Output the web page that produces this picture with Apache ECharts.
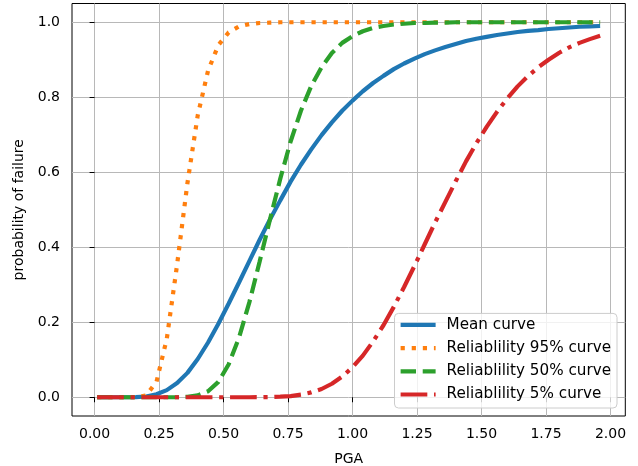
<!DOCTYPE html>
<html>
<head>
<meta charset="utf-8">
<script src="https://cdn.jsdelivr.net/npm/echarts@6/dist/echarts.min.js"></script>
<style>
  html, body { margin: 0; padding: 0; background: #fff; }
  #main { width: 638px; height: 466px; }
</style>
</head>
<body>
<div id="main"></div>
<script>
// PGA values (x)
const pga = [0.01, 0.04, 0.08, 0.12, 0.16, 0.20, 0.24, 0.28, 0.32, 0.36,
  0.40, 0.44, 0.48, 0.52, 0.56, 0.60, 0.64, 0.68, 0.72, 0.76,
  0.80, 0.84, 0.88, 0.92, 0.96, 1.00, 1.04, 1.08, 1.12, 1.16,
  1.20, 1.24, 1.28, 1.32, 1.36, 1.40, 1.44, 1.48, 1.52, 1.56,
  1.60, 1.64, 1.68, 1.72, 1.76, 1.80, 1.84, 1.88, 1.92, 1.96]

const meanCurve = [0, 0, 0, 0, 0.0004, 0.002, 0.008, 0.019, 0.038, 0.065,
  0.102, 0.146, 0.196, 0.250, 0.306, 0.363, 0.420, 0.474, 0.525, 0.575,
  0.620, 0.661, 0.699, 0.733, 0.764, 0.791, 0.816, 0.838, 0.857, 0.875,
  0.890, 0.903, 0.915, 0.925, 0.934, 0.942, 0.950, 0.956, 0.961, 0.966,
  0.970, 0.974, 0.977, 0.979, 0.982, 0.984, 0.986, 0.988, 0.989, 0.990]

const rel95 = [0, 0, 0, 0, 0, 0.005, 0.041, 0.156, 0.354, 0.571,
  0.752, 0.871, 0.939, 0.973, 0.989, 0.995, 0.998, 0.999, 1, 1,
  1, 1, 1, 1, 1, 1, 1, 1, 1, 1,
  1, 1, 1, 1, 1, 1, 1, 1, 1, 1,
  1, 1, 1, 1, 1, 1, 1, 1, 1, 1]

const rel50 = [0, 0, 0, 0, 0, 0, 0, 0, 0, 0.001,
  0.005, 0.016, 0.041, 0.088, 0.159, 0.253, 0.362, 0.474, 0.583, 0.682,
  0.764, 0.830, 0.880, 0.918, 0.945, 0.963, 0.976, 0.985, 0.990, 0.994,
  0.996, 0.998, 0.998, 0.999, 0.999, 1, 1, 1, 1, 1,
  1, 1, 1, 1, 1, 1, 1, 1, 1, 1]

const rel5 = [0, 0, 0, 0, 0, 0, 0, 0, 0, 0,
  0, 0, 0, 0, 0, 0, 0.0002, 0.0006, 0.0015, 0.003,
  0.007, 0.013, 0.022, 0.036, 0.055, 0.080, 0.111, 0.149, 0.192, 0.241,
  0.294, 0.350, 0.408, 0.466, 0.521, 0.576, 0.629, 0.677, 0.721, 0.761,
  0.797, 0.829, 0.856, 0.880, 0.900, 0.918, 0.933, 0.945, 0.955, 0.964]

const xTicks = [0, 0.25, 0.5, 0.75, 1.0, 1.25, 1.5, 1.75, 2.0]
const yTicks = [0, 0.2, 0.4, 0.6, 0.8, 1.0]

const names = ['Mean curve', 'Reliablility 95% curve', 'Reliablility 50% curve', 'Reliablility 5% curve']

function pairs (vals) {
  return pga.map((x, i) => [x, vals[i]])
}

const font = 'DejaVu Sans'
const chart = echarts.init(document.getElementById('main'))

const option = {
  animation: false,
  grid: {
    left: 72,
    right: 12.7,
    top: 3.5,
    bottom: 50,
    outerBoundsMode: 'none',
    show: true,
    borderColor: '#000',
    borderWidth: 1,
    backgroundColor: 'transparent'
  },
  legend: {
    orient: 'vertical',
    right: 21,
    bottom: 58,
    padding: [4, 6, 6, 4],
    itemGap: 8.2,
    itemWidth: 35,
    itemHeight: 16,
    backgroundColor: 'rgba(255,255,255,0.8)',
    borderColor: '#cccccc',
    borderWidth: 1,
    borderRadius: 4,
    itemStyle: { opacity: 0 },
    lineStyle: { width: 4.2 },
    textStyle: { fontFamily: font, fontSize: 15.2, color: '#000', padding: [0, 0, 0, 6] },
    data: names
  },
  xAxis: {
    type: 'value',
    min: -0.0875,
    max: 2.0575,
    minInterval: 0.25,
    maxInterval: 0.25,
    name: 'PGA',
    nameLocation: 'middle',
    nameGap: 36,
    nameTextStyle: { fontFamily: font, fontSize: 14, color: '#000' },
    axisLine: { show: false },
    axisTick: { show: true, length: 5, lineStyle: { color: '#000', width: 1 }, customValues: xTicks },
    axisLabel: {
      fontFamily: font, fontSize: 14, color: '#000', margin: 11,
      customValues: xTicks,
      formatter: v => v.toFixed(2)
    },
    splitLine: { show: true, lineStyle: { color: '#b8b8b8', width: 1 } }
  },
  yAxis: {
    type: 'value',
    min: -0.05,
    max: 1.05,
    minInterval: 0.2,
    maxInterval: 0.2,
    name: 'probability of failure',
    nameLocation: 'middle',
    nameGap: 41,
    nameTextStyle: { fontFamily: font, fontSize: 14, color: '#000' },
    axisLine: { show: false },
    axisTick: { show: true, length: 5, lineStyle: { color: '#000', width: 1 }, customValues: yTicks },
    axisLabel: {
      fontFamily: font, fontSize: 14, color: '#000', margin: 12,
      customValues: yTicks,
      formatter: v => v.toFixed(1)
    },
    splitLine: { show: true, lineStyle: { color: '#b8b8b8', width: 1 } }
  },
  series: [
    {
      name: names[0],
      type: 'line',
      symbol: 'none',
      data: pairs(meanCurve),
      color: '#1f77b4',
      lineStyle: { width: 4.2, color: '#1f77b4' }
    },
    {
      name: names[1],
      type: 'line',
      symbol: 'none',
      data: pairs(rel95),
      color: '#ff7f0e',
      lineStyle: { width: 4.2, color: '#ff7f0e', type: [4.2, 6.9] }
    },
    {
      name: names[2],
      type: 'line',
      symbol: 'none',
      data: pairs(rel50),
      color: '#2ca02c',
      lineStyle: { width: 4.2, color: '#2ca02c', type: [15.4, 6.7] }
    },
    {
      name: names[3],
      type: 'line',
      symbol: 'none',
      data: pairs(rel5),
      color: '#d62728',
      lineStyle: { width: 4.2, color: '#d62728', type: [26.7, 6.7, 4.2, 6.7] }
    }
  ]
}

chart.setOption(option)
</script>
</body>
</html>
